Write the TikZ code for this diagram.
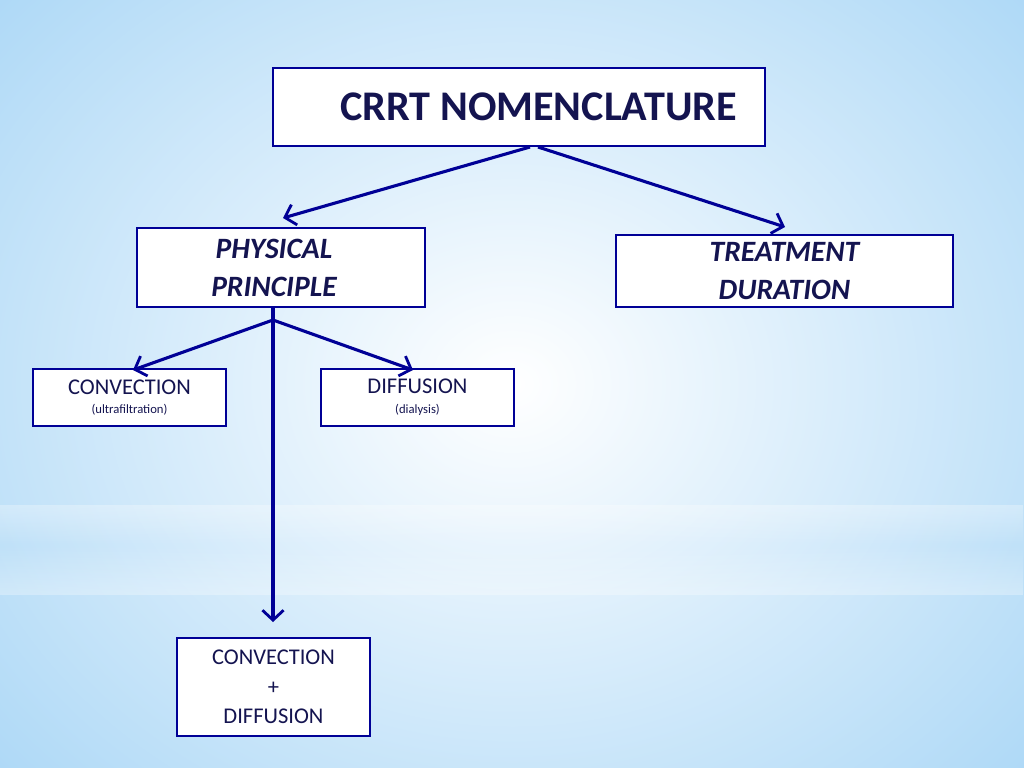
\documentclass[tikz,border=0pt]{standalone}
\usepackage{fontspec}
\setmainfont{Carlito}
\usetikzlibrary{arrows.meta,fadings}
\definecolor{boxblue}{RGB}{0,0,150}
\definecolor{textblue}{RGB}{20,20,80}
\definecolor{skyblue}{RGB}{160,210,245}
\tikzset{
  box/.style={draw=boxblue, line width=2pt, fill=white, text=textblue, align=center, inner sep=0pt},
  link/.style={draw=boxblue, line width=2.2pt, -{Straight Barb[length=7pt,width=15pt,line width=2pt]}},
}
\begin{document}
\begin{tikzpicture}[x=0.025cm,y=-0.025cm]
% background
\useasboundingbox (0,0) rectangle (1024,768);
\shade[inner color=white, outer color=skyblue] (-300,-300) rectangle (1324,1068);
\fill[white, opacity=.3, path fading=south] (0,505) rectangle (1024,545);
\fill[white, opacity=.3, path fading=north] (0,545) rectangle (1024,595);
% boxes
\node[box, minimum width=492*0.025cm, minimum height=78*0.025cm, font=\bfseries\fontsize{30}{32}\selectfont] (title) at (519,107) {\hspace*{28pt}CRRT NOMENCLATURE};
\node[box, minimum width=288*0.025cm, minimum height=79*0.025cm, font=\bfseries\itshape\fontsize{21}{27}\selectfont] (phys) at (281,267.5) {\hspace*{-10pt}PHYSICAL\\\hspace*{-10pt}PRINCIPLE};
\node[box, minimum width=337*0.025cm, minimum height=72*0.025cm, font=\bfseries\itshape\fontsize{21}{27}\selectfont] (treat) at (784.5,271) {TREATMENT\\DURATION};
\node[box, minimum width=193*0.025cm, minimum height=57*0.025cm] (conv) at (129.5,397.5) {\fontsize{16}{18}\selectfont CONVECTION\\[2pt]\fontsize{9}{10}\selectfont (ultrafiltration)};
\node[box, minimum width=193*0.025cm, minimum height=57*0.025cm] (diff) at (417.5,397.5) {\fontsize{16}{18}\selectfont DIFFUSION\\[2pt]\fontsize{9}{10}\selectfont (dialysis)};
\node[box, minimum width=193*0.025cm, minimum height=98*0.025cm, font=\fontsize{16}{21}\selectfont] (both) at (273.5,687) {CONVECTION\\+\\DIFFUSION};
% connectors
\coordinate (tl) at (530,147);
\coordinate (tr) at (538,147);
\coordinate (pl) at (283,218);
\coordinate (pr) at (785,227);
\coordinate (fork) at (273,320);
\coordinate (cv) at (133,370);
\coordinate (df) at (413,370);
\coordinate (bt) at (273,622);
\draw[link] (tl) -- (pl);
\draw[link] (tr) -- (pr);
\draw[boxblue, line width=2.2pt] (phys.south -| fork) -- (fork);
\draw[link] (fork) -- (cv);
\draw[link] (fork) -- (df);
\draw[link] (fork) -- (bt);
\end{tikzpicture}
\end{document}
